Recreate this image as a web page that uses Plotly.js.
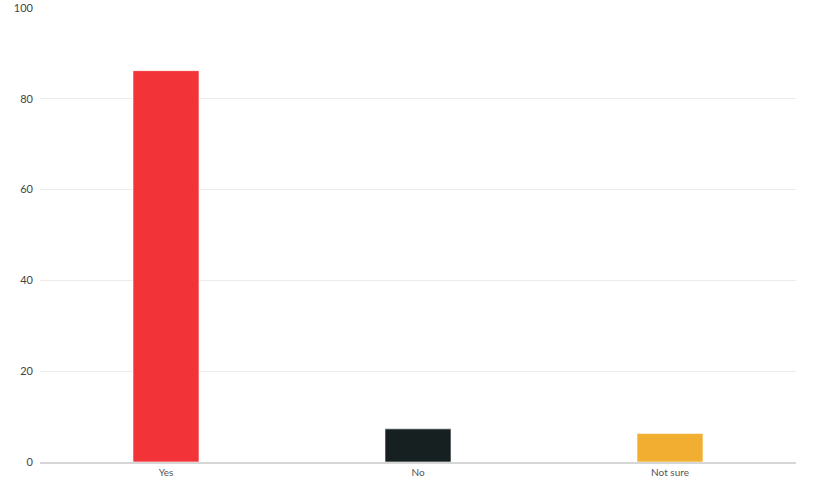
<!DOCTYPE html>
<html>
<head>
<meta charset="utf-8">
<script src="https://cdn.plot.ly/plotly-3.0.1.min.js"></script>
<style>html,body{margin:0;padding:0;background:#fff;}#chart{width:817px;height:481px;}</style>
</head>
<body>
<div id="chart"></div>
<script>
var categories = ["Yes", "No", "Not sure"];
var values = [86.2, 7.3, 6.3];
var colors = ["#f23338", "#172021", "#f2ae30"];
var yTicks = [0, 20, 40, 60, 80, 100];

var trace = {
  type: "bar",
  x: categories,
  y: values,
  marker: {color: colors, line: {color: "rgba(255,255,255,0.6)", width: 1}},
  hoverinfo: "x+y"
};

var layout = {
  width: 817,
  height: 481,
  margin: {l: 40, r: 21, t: 8, b: 19},
  paper_bgcolor: "#fff",
  plot_bgcolor: "#fff",
  bargap: 0.738,
  showlegend: false,
  font: {family: "Lato, 'Noto Sans', sans-serif", size: 11, color: "#444"},
  xaxis: {
    type: "category",
    showgrid: false,
    showline: true,
    linecolor: "#d6d6d6",
    linewidth: 2,
    ticks: "",
    tickfont: {size: 10, color: "#555"},
    fixedrange: true
  },
  yaxis: {
    range: [0, 100],
    tickvals: yTicks,
    ticktext: yTicks.map(String),
    showgrid: true,
    gridcolor: "#ebebeb",
    gridwidth: 1,
    zeroline: false,
    showline: false,
    ticks: "",
    ticklabelstandoff: 6,
    tickfont: {size: 11, color: "#444"},
    fixedrange: true
  }
};

Plotly.newPlot("chart", [trace], layout, {displayModeBar: false, staticPlot: true});
</script>
</body>
</html>
